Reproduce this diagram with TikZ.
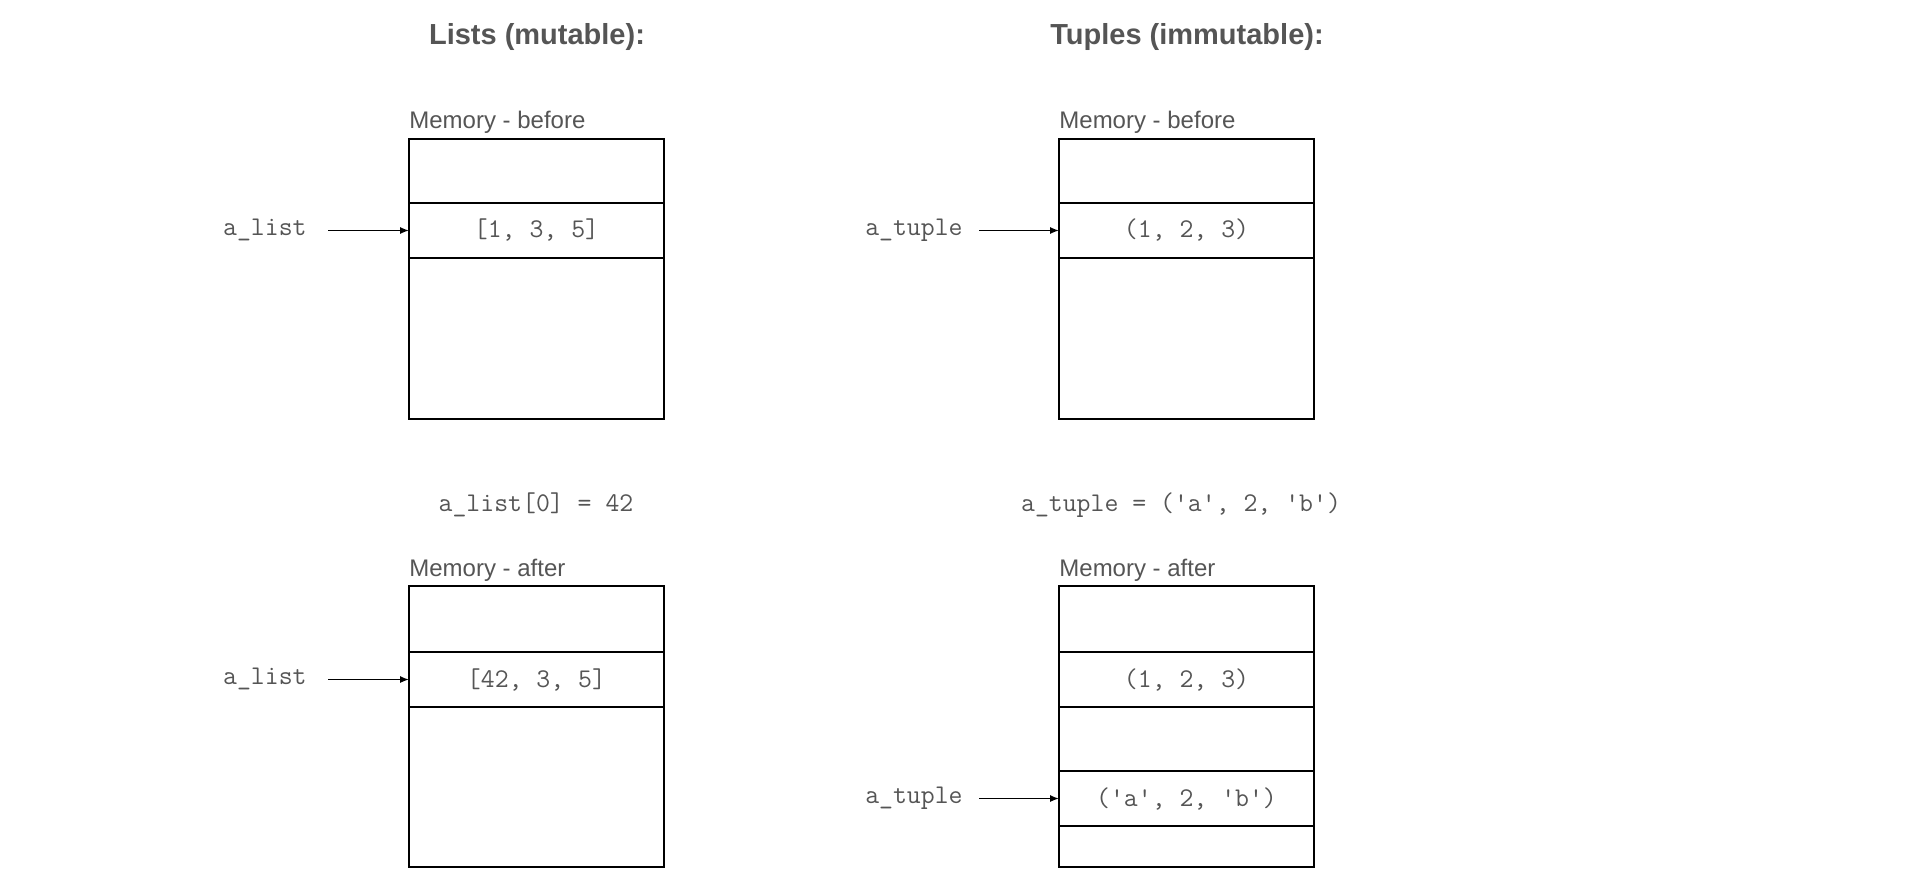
\documentclass[tikz,border=0pt]{standalone}
\usepackage{fontspec}
\setmainfont{Liberation Sans}
\usepackage{xcolor}
\usepackage{tikz}
\usetikzlibrary{arrows.meta,positioning}
\definecolor{txtgray}{RGB}{85,85,85}
\newcommand{\codefont}{\fontsize{13.5}{16}\selectfont\ttfamily}
\tikzset{
cell/.style = {draw, line width=1pt, rectangle, minimum width=127.5pt, outer sep=0pt, inner sep=0pt, font=\codefont, text=txtgray},
varname/.style = {inner sep=0pt, font=\codefont, text=txtgray, anchor=mid east},
memlabel/.style = {inner sep=0pt, anchor=base west, font=\fontsize{12}{14}\selectfont, text=txtgray},
heading/.style = {inner sep=0pt, anchor=base, font=\fontsize{14.5}{17}\selectfont\bfseries, text=txtgray},
code/.style = {inner sep=0pt, anchor=base, font=\codefont, text=txtgray},
ptr/.style = {->, line width=0.8pt}
}
\begin{document}
\begin{tikzpicture}[x=0.5pt, y=-0.5pt, node distance=0pt, >={Latex[length=4.5pt,width=3.6pt]}]
    \useasboundingbox (0,0) rectangle (1914,883);
    \node [heading] (ltitle) at (537,45) {Lists (mutable):};
    \node [heading] (ttitle) at (1187,45) {Tuples (immutable):};

    % lists
    \node [memlabel] (lbmem) at (409,128) {Memory - before};
    \node [cell, minimum height=32pt, anchor=north west] (lb1) at (409,139) {};
    \node [cell, minimum height=27.5pt, below=of lb1] (lb2) {[1, 3, 5]};
    \node [cell, minimum height=80.5pt, below=of lb2] (lb3) {};
    \node [varname, left=51pt of lb2.west, anchor=mid east] (lv1) {a\_list};
    \draw [ptr, shorten <=10.5pt] (lv1.mid east) -- (lb2);

    \node [code] (lassign) at (536,511) {a\_list[0] = 42};

    \node [memlabel] (lamem) at (409,576) {Memory - after};
    \node [cell, minimum height=33pt, anchor=north west] (la1) at (409,586) {};
    \node [cell, minimum height=27.5pt, below=of la1] (la2) {[42, 3, 5]};
    \node [cell, minimum height=80pt, below=of la2] (la3) {};
    \node [varname, left=51pt of la2.west, anchor=mid east] (lv2) {a\_list};
    \draw [ptr, shorten <=10.5pt] (lv2.mid east) -- (la2);

    % tuples
    \node [memlabel] (tbmem) at (1059,128) {Memory - before};
    \node [cell, minimum height=32pt, anchor=north west] (tb1) at (1059,139) {};
    \node [cell, minimum height=27.5pt, below=of tb1] (tb2) {(1, 2, 3)};
    \node [cell, minimum height=80.5pt, below=of tb2] (tb3) {};
    \node [varname, left=48pt of tb2.west, anchor=mid east] (tv1) {a\_tuple};
    \draw [ptr, shorten <=8pt] (tv1.mid east) -- (tb2);

    \node [code] (tassign) at (1181,511) {a\_tuple = ('a', 2, 'b')};

    \node [memlabel] (tamem) at (1059,576) {Memory - after};
    \node [cell, minimum height=33pt, anchor=north west] (ta1) at (1059,586) {};
    \node [cell, minimum height=27.5pt, below=of ta1] (ta2) {(1, 2, 3)};
    \node [cell, minimum height=32pt, below=of ta2] (ta3) {};
    \node [cell, minimum height=27.5pt, below=of ta3] (ta4) {('a', 2, 'b')};
    \node [cell, minimum height=20.5pt, below=of ta4] (ta5) {};
    \node [varname, left=48pt of ta4.west, anchor=mid east] (tv2) {a\_tuple};
    \draw [ptr, shorten <=8pt] (tv2.mid east) -- (ta4);
\end{tikzpicture}
\end{document}
